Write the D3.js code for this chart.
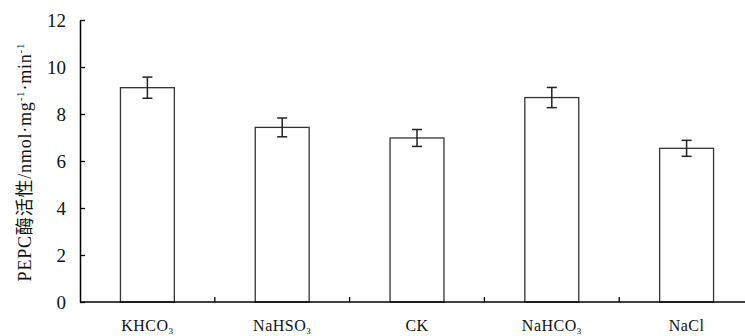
<!DOCTYPE html>
<html>
<head>
<meta charset="utf-8">
<script src="https://cdn.jsdelivr.net/npm/d3@7"></script>
<style>
  body { margin: 0; background: #fff; }
  svg { display: block; }
  text { font-family: "Liberation Serif", "Noto Sans CJK SC", serif; fill: #111; }
</style>
</head>
<body>
<svg width="745" height="336"></svg>
<script>
// data
var treatments = ['KHCO3', 'NaHSO3', 'CK', 'NaHCO3', 'NaCl'];
var activity = [9.12, 7.43, 6.98, 8.70, 6.54];
var errors = [0.45, 0.40, 0.36, 0.43, 0.34];
var yTicks = [0, 2, 4, 6, 8, 10, 12];

var svg = d3.select('svg');

var x = d3.scaleBand()
  .domain(treatments)
  .range([80, 754])
  .paddingInner(0.6)
  .paddingOuter(0.3);

var y = d3.scaleLinear()
  .domain([0, 12])
  .range([302, 20]);

// bars
svg.append('g')
  .selectAll('rect')
  .data(treatments)
  .join('rect')
  .attr('x', function(d) { return x(d); })
  .attr('y', function(d, i) { return y(activity[i]); })
  .attr('width', x.bandwidth())
  .attr('height', function(d, i) { return y(0) - y(activity[i]); })
  .attr('fill', '#fff')
  .attr('stroke', '#333')
  .attr('stroke-width', 1.3);

// error bars
var eb = svg.append('g')
  .selectAll('g')
  .data(treatments)
  .join('g')
  .attr('stroke', '#222')
  .attr('stroke-width', 1.5);

eb.append('line')
  .attr('x1', function(d) { return x(d) + x.bandwidth() / 2; })
  .attr('x2', function(d) { return x(d) + x.bandwidth() / 2; })
  .attr('y1', function(d, i) { return y(activity[i] + errors[i]); })
  .attr('y2', function(d, i) { return y(activity[i] - errors[i]); });

[1, -1].forEach(function(s) {
  eb.append('line')
    .attr('x1', function(d) { return x(d) + x.bandwidth() / 2 - 5; })
    .attr('x2', function(d) { return x(d) + x.bandwidth() / 2 + 5; })
    .attr('y1', function(d, i) { return y(activity[i] + s * errors[i]); })
    .attr('y2', function(d, i) { return y(activity[i] + s * errors[i]); });
});

// y axis, ticks point inward
var yAxis = svg.append('g')
  .attr('transform', 'translate(80,0)')
  .call(d3.axisRight(y).tickValues(yTicks).tickSize(5).tickSizeOuter(0));
yAxis.select('.domain').attr('stroke', '#000').attr('stroke-width', 1.5);
yAxis.selectAll('.tick line').attr('stroke', '#000').attr('stroke-width', 1.3);
yAxis.selectAll('.tick text')
  .attr('x', -14)
  .attr('dy', '0.35em')
  .attr('text-anchor', 'end')
  .style('font-size', '19px');

// x axis with ticks between categories
svg.append('line')
  .attr('x1', 80).attr('x2', 745)
  .attr('y1', y(0)).attr('y2', y(0))
  .attr('stroke', '#000').attr('stroke-width', 1.5);

svg.append('g')
  .selectAll('line')
  .data(treatments.slice(1))
  .join('line')
  .attr('x1', function(d) { return x(d) - x.step() * x.paddingInner() / 2; })
  .attr('x2', function(d) { return x(d) - x.step() * x.paddingInner() / 2; })
  .attr('y1', y(0)).attr('y2', y(0) - 5)
  .attr('stroke', '#000').attr('stroke-width', 1.3);

// category labels with subscripts
var lab = svg.append('g')
  .selectAll('text')
  .data(treatments)
  .join('text')
  .attr('x', function(d) { return x(d) + x.bandwidth() / 2; })
  .attr('y', 331)
  .attr('text-anchor', 'middle')
  .style('font-size', '16px')
  .style('letter-spacing', '0.5px');

lab.each(function(d) {
  var t = d3.select(this);
  var m = d.match(/^(.*?)(\d*)$/);
  t.append('tspan').text(m[1]);
  if (m[2]) {
    t.append('tspan').attr('dy', 3).style('font-size', '9px').text(m[2]);
  }
});

// y axis title
var yt = svg.append('text')
  .attr('transform', 'translate(31,162) rotate(-90)')
  .attr('text-anchor', 'middle')
  .style('font-size', '18px')
  .style('letter-spacing', '0.8px');
yt.append('tspan').text('PEPC酶活性/nmol·mg');
yt.append('tspan').attr('dy', -7).style('font-size', '11px').text('-1');
yt.append('tspan').attr('dy', 7).text('·min');
yt.append('tspan').attr('dy', -7).style('font-size', '11px').text('-1');
</script>
</body>
</html>
